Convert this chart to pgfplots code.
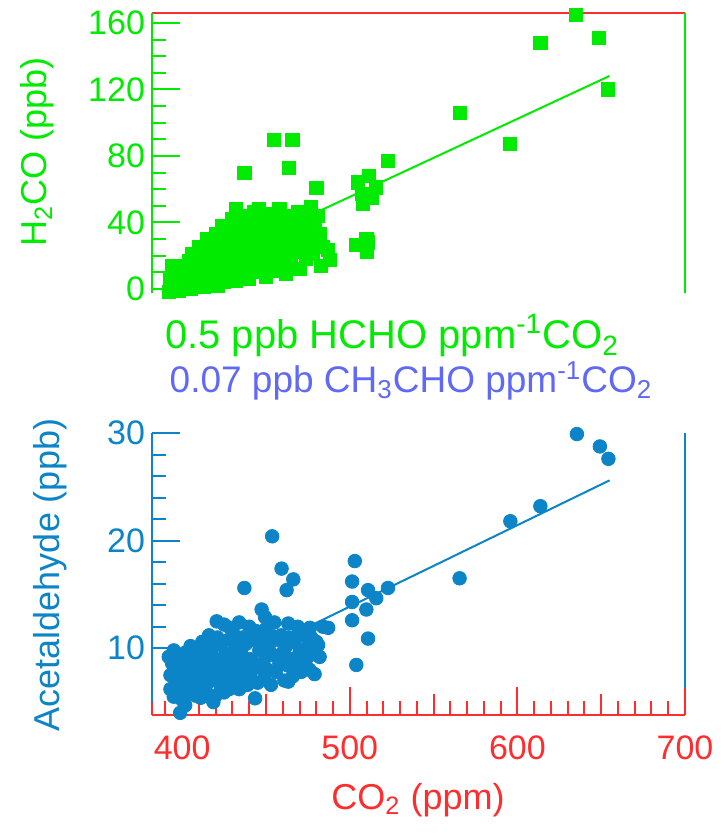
\documentclass[border=0pt]{standalone}
\usepackage{fontspec}
\setmainfont{Liberation Sans}
\usepackage{pgfplots}
\pgfplotsset{compat=1.18}
\definecolor{mygreen}{RGB}{0,235,0}
\definecolor{myred}{RGB}{255,45,45}
\definecolor{myblue}{RGB}{12,132,200}
\definecolor{mypurple}{RGB}{95,105,245}
\begin{document}
\begin{tikzpicture}
\path[use as bounding box] (0,0) rectangle (361.5pt,416.5pt);
% ---------------- top panel ----------------
\begin{axis}[
  at={(76pt,270pt)}, anchor=south west, scale only axis,
  width=266.5pt, height=140pt,
  xmin=382, xmax=700, ymin=-2.5, ymax=166,
  axis line style={draw=none},
  xtick=\empty,
  ytick={0,40,80,120,160}, minor y tick num=3,
  ytick pos=left, tick align=inside,
  major tick length=14pt, minor tick length=7pt,
  every tick/.append style={mygreen, line width=1pt},
  /pgf/number format/assume math mode=true,
  yticklabel style={text=mygreen, font=\fontsize{17}{20}\selectfont},
  clip=false,
]
\addplot[only marks, mark=square*, mark size=3.3pt, color=mygreen, fill=mygreen] table {
x y
634.7 165
648.8 151
613.7 148
654.2 120
565.5 106
595.4 87
522.6 77
511.5 68
515.6 61
508 51
510.9 28
510 22
503.9 26.5
509.9 30
505 64
507 57
513 55
454.5 89.6
465.8 89.6
437.1 70
463.5 72.6
480.1 60.6
487.1 23.5
488.1 17.4
392 -2
393 2
393 6
394 10
394 14
395 -1
396 4
396 8
397 1
398 12
398 -1
399 5
400 3
400 9
401 0
402 14
402 6
403 2
404 17
404 10
405 0
406 4
406 21
407 13
408 8
409 2
410 18
410 25
411 11
412 5
413 22
413 1
414 15
415 30
415 8
416 3
417 19
418 27
418 12
419 6
420 33
421 22
421 2
422 15
423 9
424 28
424 38
425 4
426 18
427 35
427 12
428 24
429 8
430 42
430 30
431 16
432 48
432 5
433 22
434 36
434 11
435 28
436 7
436 44
437 18
438 32
438 25
439 13
440 40
440 6
441 22
442 35
443 16
443 46
444 28
445 10
446 38
446 48
447 22
448 31
449 15
450 42
450 7
451 26
452 35
453 19
454 45
454 11
455 30
456 23
457 38
458 14
458 48
459 29
460 20
461 36
462 9
462 44
463 26
464 32
465 16
466 40
467 22
468 29
469 46
470 12
471 35
472 24
473 41
474 18
475 31
476 27
477 49
478 21
479 36
480 28
481 44
482 33
483 14
484 25
};
\addplot[mygreen, line width=1pt, no marks] coordinates {(400,8.4) (655,128.1)};
\draw[myred, line width=1pt] (rel axis cs:0,1) -- (rel axis cs:1,1);
\draw[mygreen, line width=1pt] (rel axis cs:0,0) -- (rel axis cs:0,1);
\draw[mygreen, line width=1pt] (rel axis cs:1,0) -- (rel axis cs:1,1);
\end{axis}
% ---------------- bottom panel ----------------
\begin{axis}[
  at={(76pt,59pt)}, anchor=south west, scale only axis,
  width=266.5pt, height=141pt,
  xmin=382, xmax=700, ymin=3.8, ymax=30,
  axis line style={draw=none},
  xtick={400,500,600,700},
  minor xtick={390,400,...,690},
  extra x ticks={450,550,650}, extra x tick labels={},
  extra x tick style={major tick length=10.5pt},
  ytick={10,20,30}, minor y tick num=4,
  xtick pos=bottom, ytick pos=left, tick align=inside,
  major tick length=14pt, minor tick length=7pt,
  every x tick/.append style={myred, line width=1pt},
  every y tick/.append style={myblue, line width=1pt},
  /pgf/number format/assume math mode=true,
  xticklabel style={text=myred, font=\fontsize{17}{20}\selectfont, yshift=-7pt},
  yticklabel style={text=myblue, font=\fontsize{17}{20}\selectfont},
  clip=false,
]
\addplot[only marks, mark=*, mark size=3.4pt, color=myblue, fill=myblue] table {
x y
635.5 29.9
649.2 28.75
654.3 27.6
613.7 23.2
595.8 21.8
565.5 16.5
522.8 15.6
515.8 14.65
510.9 15.4
509.9 13.6
503 18.1
501.4 16.2
501.4 14.3
501.4 12.6
510.9 10.9
503.9 8.45
487.1 11.9
476.2 11.9
463.3 12.3
481.1 10.3
463.3 6.9
453.7 20.4
459.3 17.4
466.3 16.4
462.3 15.4
437.1 15.6
447.4 13.6
449.4 12.9
420.6 12.5
428.6 11.9
441.4 11.7
454.3 11.1
398.8 4.0
401.8 4.7
418.6 5.0
443.5 5.35
433.5 6.4
480 10.1
475 11.7
392 9.2
393 7.5
393 6.2
394 8.6
395 5.5
395 9.8
396 7.0
397 8.2
398 6.0
398 9.4
399 7.6
400 5.2
400 8.8
401 6.8
402 9.6
402 7.9
403 5.8
404 8.4
405 6.4
405 10.2
406 7.2
407 9.0
408 5.6
408 8.0
409 6.6
410 9.8
410 7.4
411 5.4
412 8.8
412 10.6
413 6.2
414 7.8
415 9.4
415 5.8
416 11.2
416 6.9
417 8.3
418 10.0
419 7.1
420 9.0
420 5.6
421 11.0
422 7.8
423 6.4
423 10.4
424 8.6
425 12.2
425 5.9
426 9.5
427 7.3
428 10.8
428 6.2
429 8.4
430 11.6
430 9.3
431 7.0
432 10.2
433 8.0
434 12.4
434 6.2
435 9.6
436 11.0
436 7.6
437 8.8
438 10.4
439 6.6
440 12.0
440 9.0
441 7.8
442 10.8
443 8.6
444 11.6
445 6.8
446 9.8
447 8.2
448 10.6
449 7.2
450 11.8
450 9.2
451 8.0
452 10.4
453 6.6
454 9.4
455 12.4
456 7.8
457 10.8
458 8.6
459 11.2
460 9.6
461 7.0
462 10.2
463 8.4
464 11.0
465 9.0
466 7.4
467 10.6
468 8.6
469 12.0
470 9.6
471 7.8
472 11.2
473 8.8
474 10.0
475 9.2
476 8.0
477 11.0
478 9.8
479 7.6
480 10.6
482 9.2
484 12.0
};
\addplot[myblue, line width=1pt, no marks] coordinates {(400,6.3) (655,25.6)};
\draw[myred, line width=1pt] (rel axis cs:0,0) -- (rel axis cs:1,0);
\draw[myred, line width=1pt] (rel axis cs:1,0) -- ++(0pt,13.5pt);
\draw[myblue, line width=1pt] (rel axis cs:0,0) ++(0pt,6.5pt) -- (rel axis cs:0,1);
\draw[myred, line width=1pt] (rel axis cs:0,0) -- ++(0pt,6.5pt);
\draw[myblue, line width=1pt] (rel axis cs:1,0) ++(0pt,13.5pt) -- (rel axis cs:1,1);
\end{axis}
% ---------------- text ----------------
\node[rotate=90, text=mygreen, font=\fontsize{18}{21}\selectfont] at (18.5pt,340.5pt) {H\textsubscript{2}CO (ppb)};
\node[rotate=90, text=myblue, font=\fontsize{18}{21}\selectfont] at (25pt,129pt) {Acetaldehyde (ppb)};
\node[text=mygreen, inner sep=0pt, font=\fontsize{20}{22}\selectfont] at (196pt,248.5pt) {0.5 ppb HCHO ppm\textsuperscript{-1}CO\textsubscript{2}};
\node[text=mypurple, inner sep=0pt, font=\fontsize{18.5}{22}\selectfont] at (205.5pt,226pt) {0.07 ppb CH\textsubscript{3}CHO ppm\textsuperscript{-1}CO\textsubscript{2}};
\node[text=myred, font=\fontsize{18}{21}\selectfont] at (209pt,16.5pt) {CO\textsubscript{2} (ppm)};
\end{tikzpicture}
\end{document}
